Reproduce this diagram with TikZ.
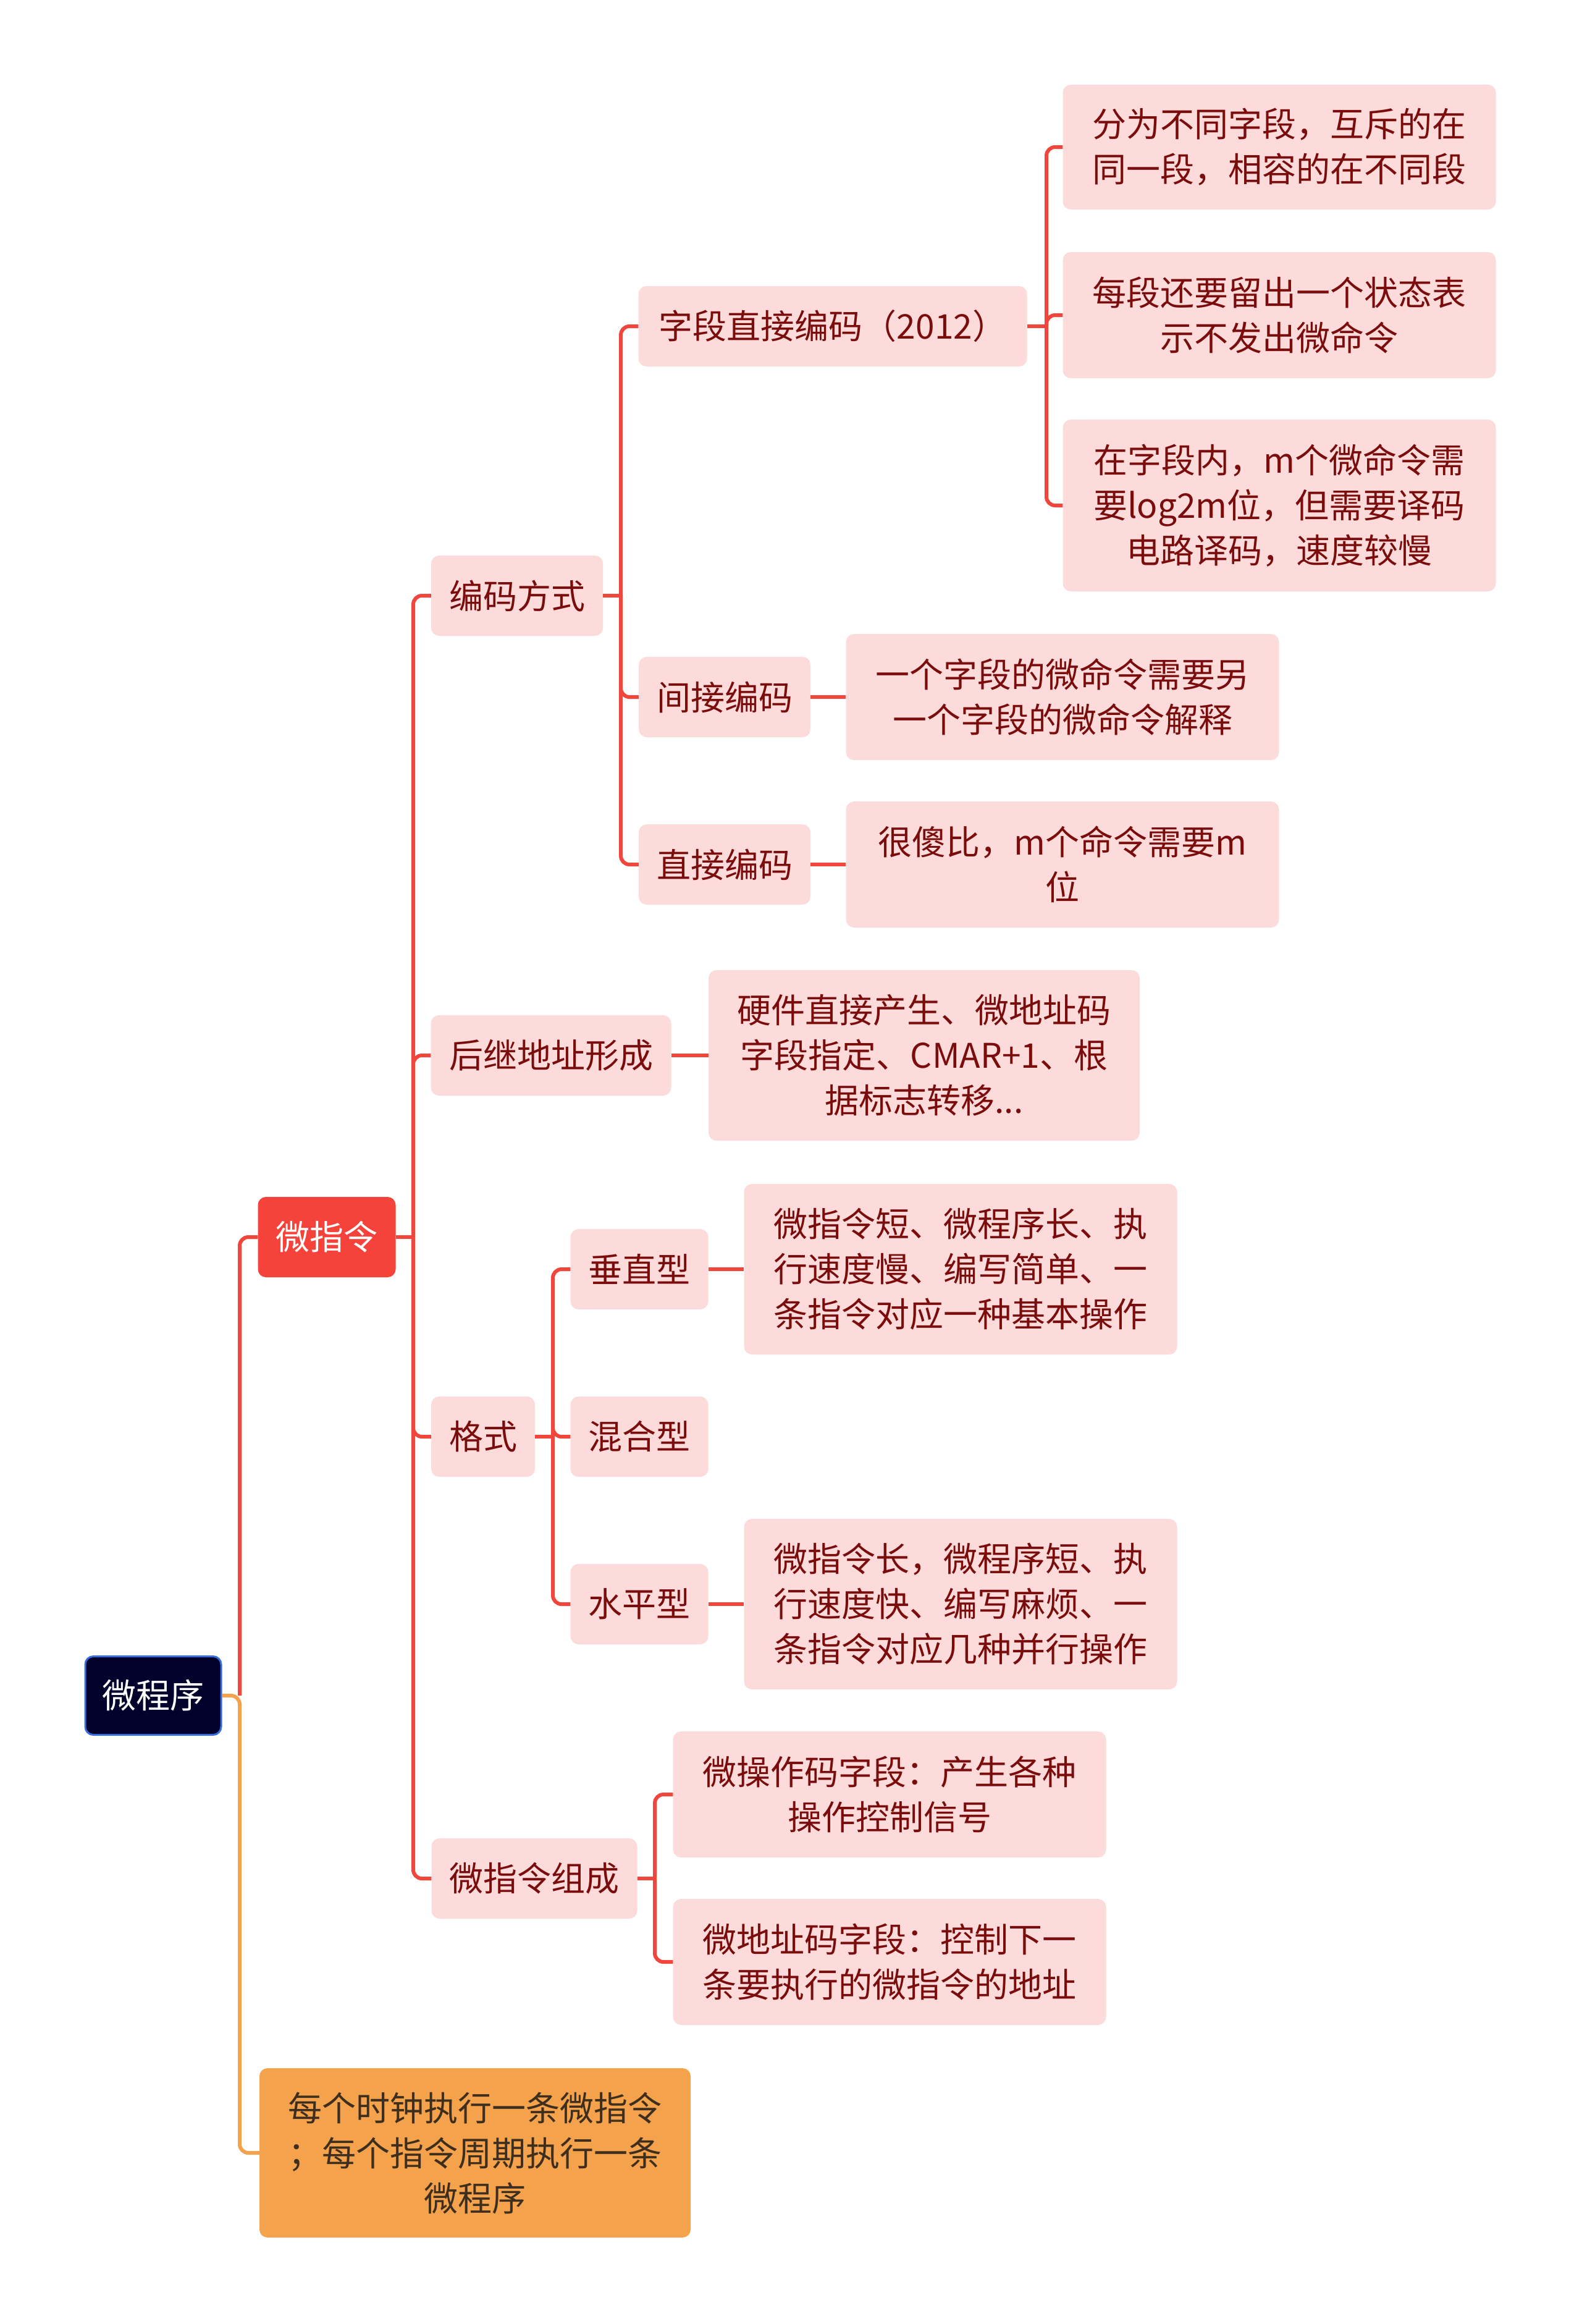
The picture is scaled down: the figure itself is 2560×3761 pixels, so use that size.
\documentclass[tikz,border=0pt]{standalone}
\usepackage{fontspec}
\newfontfamily\cjk{Noto Sans CJK SC}
\definecolor{linered}{RGB}{240,70,60}
\definecolor{lineorange}{RGB}{244,162,76}
\definecolor{pinkfill}{RGB}{253,219,218}
\definecolor{darkred}{RGB}{122,12,12}
\definecolor{redfill}{RGB}{245,67,59}
\definecolor{orangefill}{RGB}{244,162,76}
\definecolor{orangetext}{RGB}{62,46,30}
\definecolor{rootfill}{RGB}{2,1,44}
\definecolor{rootborder}{RGB}{55,110,220}
\tikzset{
  basebox/.style={rectangle, rounded corners=13pt, align=center, inner sep=0pt,
    font=\cjk\fontsize{55}{73}\selectfont},
  pinkbox/.style={basebox, fill=pinkfill, text=darkred, minimum height=130pt},
  rootbox/.style={basebox, fill=rootfill, draw=rootborder, line width=3pt, text=white, minimum height=127pt},
  mainbox/.style={basebox, fill=redfill, text=white, minimum height=130pt},
  orangebox/.style={basebox, fill=orangefill, text=orangetext},
  conn/.style={line width=6pt, draw=linered, rounded corners=14pt},
  oconn/.style={line width=6pt, draw=lineorange, rounded corners=14pt},
}
\begin{document}
\begin{tikzpicture}[x=1pt,y=-1pt]
\useasboundingbox (0,0) rectangle (2560,3761);
\fill[white] (0,0) rectangle (2560,3761);

% trunk coordinates
\coordinate (t0) at (388,0);
\coordinate (t1) at (669,0);
\coordinate (t2) at (1005,0);
\coordinate (t3) at (1694,0);
\coordinate (t4) at (895,0);
\coordinate (t5) at (1060,0);

% nodes
\node[rootbox, minimum width=220pt] (root) at (248,2744) {微程序};
\node[mainbox, minimum width=223pt] (wzl) at (529,2002) {微指令};
\node[orangebox, minimum width=698pt, minimum height=274pt] (orn) at (769,3484) {每个时钟执行一条微指令\\；每个指令周期执行一条\\微程序};

\node[pinkbox, minimum width=278pt] (bmfs) at (837,964) {编码方式};
\node[pinkbox, minimum width=389pt] (hjdz) at (892,1708) {后继地址形成};
\node[pinkbox, minimum width=168pt] (gs) at (782,2325) {格式};
\node[pinkbox, minimum width=333pt] (zc) at (865,3040) {微指令组成};

\node[pinkbox, minimum width=629pt] (zdzj) at (1348,528) {字段直接编码（2012）};
\node[pinkbox, minimum width=278pt] (jjbm) at (1173,1128) {间接编码};
\node[pinkbox, minimum width=278pt] (zjbm) at (1173,1399) {直接编码};

\node[pinkbox, minimum width=701pt, minimum height=202pt] (a1) at (2071,238) {分为不同字段，互斥的在\\同一段，相容的在不同段};
\node[pinkbox, minimum width=701pt, minimum height=204pt] (a2) at (2071,510) {每段还要留出一个状态表\\示不发出微命令};
\node[pinkbox, minimum width=701pt, minimum height=278pt] (a3) at (2071,818) {在字段内，m个微命令需\\要log2m位，但需要译码\\电路译码，速度较慢};

\node[pinkbox, minimum width=701pt, minimum height=204pt] (b1) at (1720,1128) {一个字段的微命令需要另\\一个字段的微命令解释};
\node[pinkbox, minimum width=701pt, minimum height=204pt] (c1) at (1720,1399) {很傻比，m个命令需要m\\位};
\node[pinkbox, minimum width=698pt, minimum height=276pt] (d1) at (1496,1708) {硬件直接产生、微地址码\\字段指定、CMAR+1、根\\据标志转移...};

\node[pinkbox, minimum width=223pt] (czx) at (1035,2054) {垂直型};
\node[pinkbox, minimum width=223pt] (hhx) at (1035,2325) {混合型};
\node[pinkbox, minimum width=223pt] (spx) at (1035,2596) {水平型};

\node[pinkbox, minimum width=701pt, minimum height=276pt] (e1) at (1555,2054) {微指令短、微程序长、执\\行速度慢、编写简单、一\\条指令对应一种基本操作};
\node[pinkbox, minimum width=701pt, minimum height=276pt] (e2) at (1555,2596) {微指令长，微程序短、执\\行速度快、编写麻烦、一\\条指令对应几种并行操作};

\node[pinkbox, minimum width=701pt, minimum height=204pt] (f1) at (1440,2904) {微操作码字段：产生各种\\操作控制信号};
\node[pinkbox, minimum width=701pt, minimum height=204pt] (f2) at (1440,3175) {微地址码字段：控制下一\\条要执行的微指令的地址};

% connectors: root
\draw[oconn] (root.east) -- (root.east -| t0) -- (orn.west -| t0) -- (orn.west);
\draw[conn] (root.east -| t0) -- (wzl.west -| t0) -- (wzl.west);

% 微指令
\draw[conn] (wzl.east) -- (wzl.east -| t1);
\foreach \c in {bmfs,hjdz,gs,zc}
  \draw[conn] (wzl.east -| t1) -- (\c.west -| t1) -- (\c.west);

% 编码方式
\draw[conn] (bmfs.east) -- (bmfs.east -| t2);
\foreach \c in {zdzj,jjbm,zjbm}
  \draw[conn] (bmfs.east -| t2) -- (\c.west -| t2) -- (\c.west);

% 字段直接编码
\draw[conn] (zdzj.east) -- (zdzj.east -| t3);
\foreach \c in {a1,a2,a3}
  \draw[conn] (zdzj.east -| t3) -- (\c.west -| t3) -- (\c.west);

% single children
\draw[conn] (jjbm.east) -- (b1.west);
\draw[conn] (zjbm.east) -- (c1.west);
\draw[conn] (hjdz.east) -- (d1.west);
\draw[conn] (czx.east) -- (e1.west);
\draw[conn] (spx.east) -- (e2.west);

% 格式
\draw[conn] (gs.east) -- (gs.east -| t4);
\foreach \c in {czx,hhx,spx}
  \draw[conn] (gs.east -| t4) -- (\c.west -| t4) -- (\c.west);

% 微指令组成
\draw[conn] (zc.east) -- (zc.east -| t5);
\foreach \c in {f1,f2}
  \draw[conn] (zc.east -| t5) -- (\c.west -| t5) -- (\c.west);
\end{tikzpicture}
\end{document}
